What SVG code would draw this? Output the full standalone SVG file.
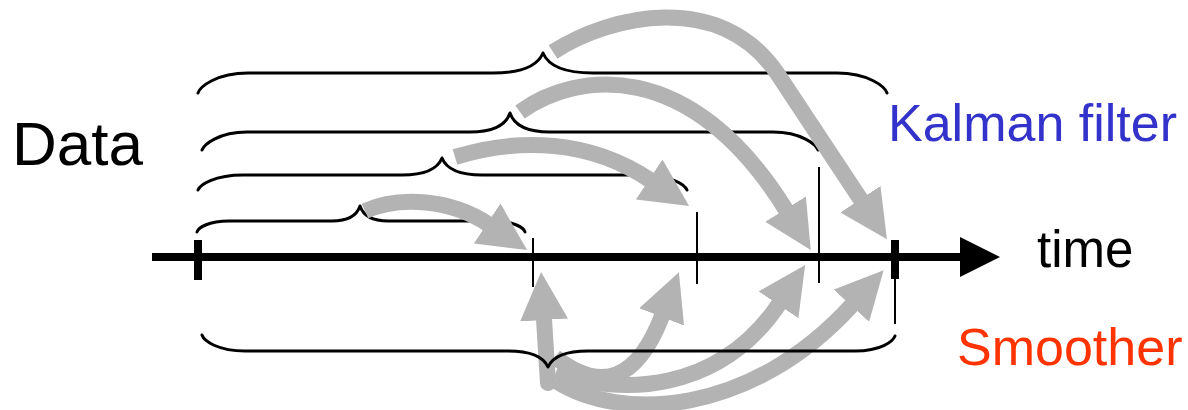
<svg xmlns="http://www.w3.org/2000/svg" width="1188" height="410" viewBox="0 0 1188 410">
  <style>
    .brace { fill: none; stroke: #000; stroke-width: 3; stroke-linecap: round; stroke-linejoin: round; }
    .tick { stroke: #000; stroke-width: 2; fill: none; }
    .thick { stroke: #000; stroke-width: 8; fill: none; }
    .flow { fill: none; stroke: #b3b3b3; stroke-width: 16; stroke-linecap: butt; marker-end: url(#head); }
    .label { font-family: "Liberation Sans", Arial, sans-serif; }
  </style>
  <defs>
    <marker id="head" markerUnits="userSpaceOnUse" markerWidth="48" markerHeight="48" viewBox="0 0 48 48" refX="1" refY="24" orient="auto">
      <path d="M0,0 L48,24 L0,48 z" fill="#b3b3b3"/>
    </marker>
  </defs>
  <rect width="1188" height="410" fill="#fff"/>

  <!-- time axis -->
  <g id="axis">
    <line class="thick" x1="152" y1="257" x2="962" y2="257"/>
    <polygon points="960,237 1000,257 960,277" fill="#000"/>
    <line class="thick" x1="198" y1="240" x2="198" y2="280"/>
    <line class="thick" x1="895" y1="240" x2="895" y2="279"/>
    <line class="tick" x1="895" y1="279" x2="895" y2="324"/>
    <line class="tick" x1="533" y1="238" x2="533" y2="287"/>
    <line class="tick" x1="697" y1="212" x2="697" y2="284"/>
    <line class="tick" x1="819" y1="167" x2="819" y2="283"/>
  </g>

  <!-- data windows used by the filter -->
  <g id="brace-1">
    <path class="brace" d="M198,93 C200,87 216,73 248,73 L493,73 C523,73 538,65 543,53 C548,65 563,73 593,73 L837,73 C869,73 885,87 887,93"/>
  </g>
  <g id="brace-2">
    <path class="brace" d="M202,150 C204,145 218,132 247,132 L470,132 C494,132 506,125 510,113 C514,125 526,132 550,132 L773,132 C802,132 816,145 818,150"/>
  </g>
  <g id="brace-3">
    <path class="brace" d="M198,190 C200,185 214,175 243,175 L402,175 C426,175 438,168 442,158 C446,168 458,175 482,175 L642,175 C671,175 685,185 687,190"/>
  </g>
  <g id="brace-4">
    <path class="brace" d="M197,232 C198,228 208,221 229,221 L332,221 C349,221 357,215 360,206 C363,215 371,221 388,221 L493,221 C514,221 524,228 525,232"/>
  </g>

  <!-- connectors -->
  <g id="connectors">
    <g id="filter-arrows">
      <path class="flow" d="M365,211 C400,195 452,200 488,224"/>
      <path class="flow" d="M455,157 C520,137 590,140 650,180"/>
      <path class="flow" d="M520,112 C575,72 690,55 786,210"/>
      <path class="flow" d="M553,52 C610,15 720,-10 777,73 L861,200"/>
    </g>
    <g id="smoother-arrows">
      <path class="flow" d="M556,381 C620,422 750,417 852,305"/>
      <path class="flow" d="M556,372 C620,397 720,392 779,304"/>
      <path class="flow" d="M555,357 Q625,412 662,316"/>
      <path class="flow" style="stroke-linecap:round" d="M548,383 L544,319"/>
    </g>
  </g>

  <!-- full data window used by the smoother -->
  <g id="brace-smoother">
    <path class="brace" d="M202,335 C204,341 218,351 245,351 L508,351 C532,351 544,358 548,367 C552,358 564,351 588,351 L855,351 C882,351 893,341 895,336"/>
  </g>

  <!-- labels -->
  <g id="labels" class="label">
    <text x="12" y="165" font-size="62" fill="#000">Data</text>
    <text x="888" y="141" font-size="52" fill="#3333cc">Kalman filter</text>
    <text x="1037" y="267" font-size="51" fill="#000">time</text>
    <text x="957" y="365" font-size="52" fill="#ff3300">Smoother</text>
  </g>
</svg>
